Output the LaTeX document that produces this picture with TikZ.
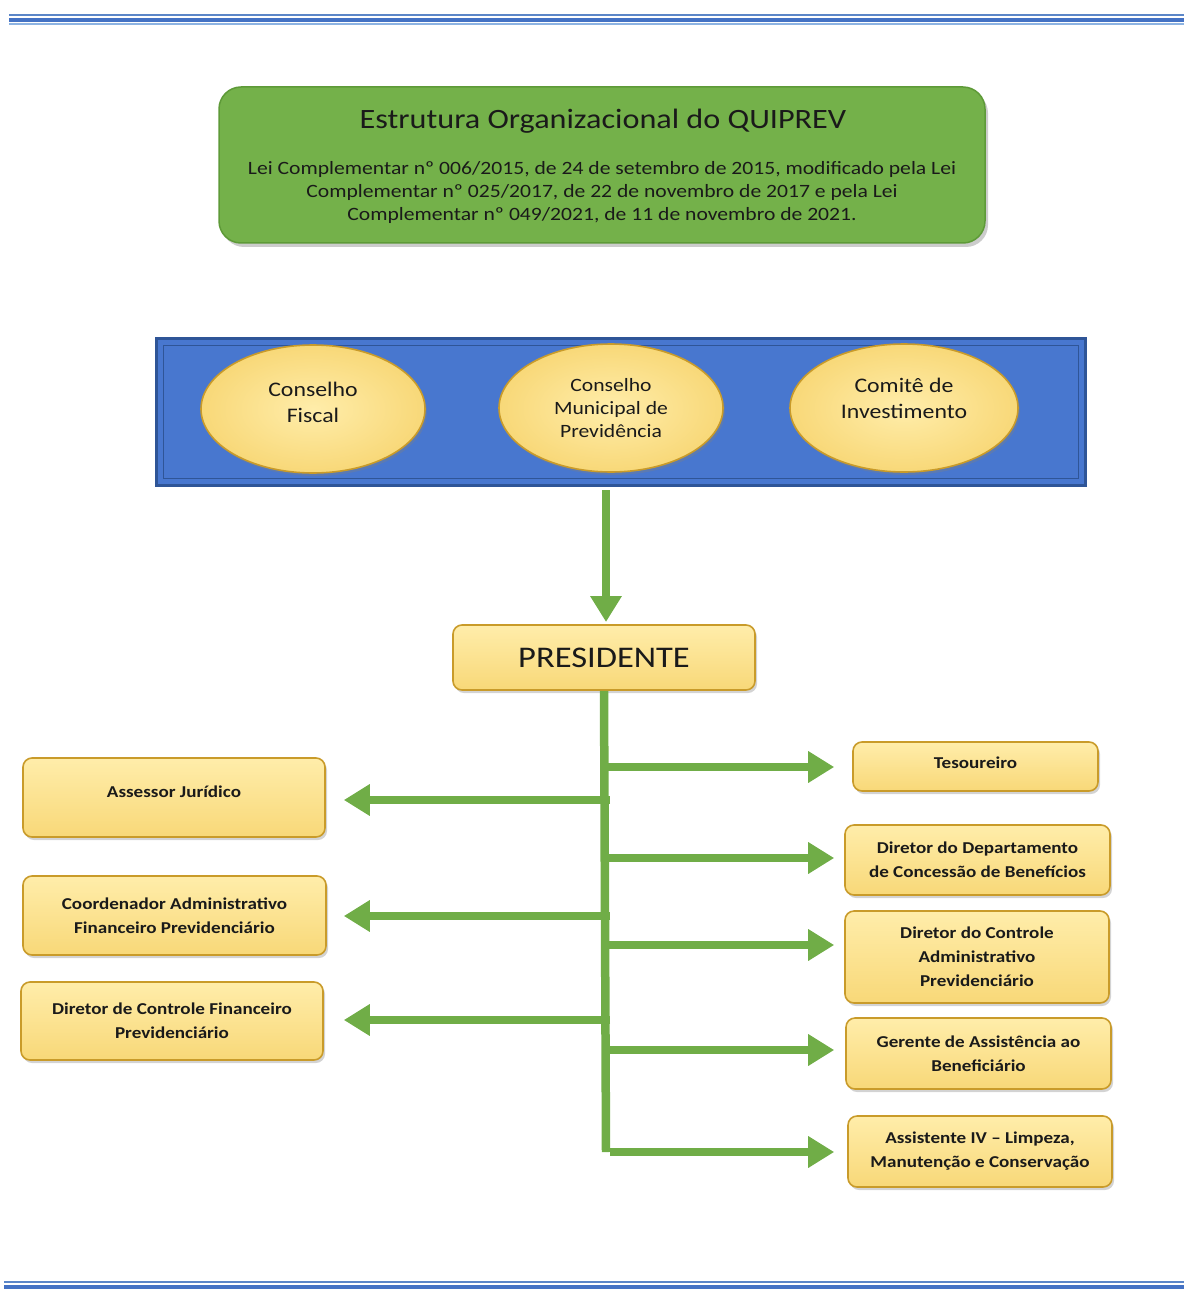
\documentclass[tikz,border=0pt]{standalone}
\usepackage{fontspec}
\setmainfont{Carlito}[FakeStretch=1.15]
\usetikzlibrary{arrows.meta,shadows,shapes.geometric}
\definecolor{stripeA}{HTML}{4472C4}
\definecolor{stripeB}{HTML}{5B86C8}
\definecolor{stripeC}{HTML}{8DB3E2}
\definecolor{titlegreen}{HTML}{74B14A}
\definecolor{greenborder}{HTML}{5E9A38}
\definecolor{arrowgreen}{HTML}{70AD47}
\definecolor{panelblue}{HTML}{4877CF}
\definecolor{panelborder}{HTML}{2F5597}
\definecolor{goldtop}{HTML}{FFEDAA}
\definecolor{goldbot}{HTML}{F8D878}
\definecolor{goldedge}{HTML}{C99B2A}
\definecolor{ink}{HTML}{1A1A1A}
\begin{document}
\begin{tikzpicture}[x=1pt,y=-1pt,
  yelbox/.style={draw=goldedge,line width=1.6pt,rounded corners=9pt,
    top color=goldtop,bottom color=goldbot,
    drop shadow={opacity=0.35,shadow xshift=2pt,shadow yshift=-3pt},
    align=center,inner sep=2pt,text=ink,font=\fontsize{16.6}{24}\selectfont\bfseries},
  yelell/.style={ellipse,draw=goldedge,line width=1.6pt,
    inner color=goldtop,outer color=goldbot,
    drop shadow={opacity=0.35,shadow xshift=2pt,shadow yshift=-3pt},
    inner sep=0pt},
  elltext/.style={align=center,text=ink,inner sep=0pt},
  conn/.style={draw=arrowgreen,line width=8.5pt},
  tip/.style={-{Triangle[length=26pt,width=30pt]}},
]
\useasboundingbox (0,0) rectangle (1184,1289);
% page stripes
\draw[stripeB,line width=2pt] (9,15) -- (1184,15);
\draw[stripeA,line width=4pt] (9,19.7) -- (1184,19.7);
\draw[stripeC,line width=2pt] (9,24.5) -- (1184,24.5);
\draw[stripeB,line width=2pt] (4,1281.5) -- (1184,1281.5);
\draw[stripeA,line width=4pt] (4,1286.5) -- (1184,1286.5);

% title box
\node[draw=greenborder,line width=1.5pt,fill=titlegreen,rounded corners=22pt,
  minimum width=766pt,minimum height=156pt,
  drop shadow={opacity=0.4,shadow xshift=3pt,shadow yshift=-4pt}] (titlebox) at (602,165) {};
\node[text=ink,font=\fontsize{28}{32}\selectfont] (title) at (603,121) {Estrutura Organizacional do QUIPREV};
\node[text=ink,align=center,font=\fontsize{18.8}{23}\selectfont] (law) at (602,192)
  {Lei Complementar nº 006/2015, de 24 de setembro de 2015, modificado pela Lei\\
   Complementar nº 025/2017, de 22 de novembro de 2017 e pela Lei\\
   Complementar nº 049/2021, de 11 de novembro de 2021.};

% councils panel
\node[draw=panelborder,line width=3pt,fill=panelblue,minimum width=929pt,minimum height=147pt,inner sep=0pt] (panel) at (620.5,411.5) {};
\draw[panelborder,line width=1pt] (163,345) rectangle (1078,478);
\node[yelell,minimum width=224pt,minimum height=128pt] (cf) at (313,409) {};
\node[yelell,minimum width=224pt,minimum height=128pt] (cmp) at (611,408) {};
\node[yelell,minimum width=228pt,minimum height=128pt] (ci) at (904,408) {};
\node[elltext,font=\fontsize{20.7}{26}\selectfont] (cft) at ([yshift=7pt]cf.center) {Conselho\\Fiscal};
\node[elltext,font=\fontsize{18.8}{23}\selectfont] (cmpt) at (cmp.center) {Conselho\\Municipal de\\Previdência};
\node[elltext,font=\fontsize{20.7}{26}\selectfont] (cit) at ([yshift=10pt]ci.center) {Comitê de\\Investimento};

% president
\node[yelbox,minimum width=302pt,minimum height=65pt,font=\fontsize{30}{34}\selectfont] (pres) at (604,657.5) {PRESIDENTE};

% left boxes
\node[yelbox,minimum width=302pt,minimum height=79pt] (aj) at (174,797.5) {\raisebox{12pt}{Assessor Jurídico}};
\node[yelbox,minimum width=303pt,minimum height=79pt] (caf) at (174.5,915.5) {Coordenador Administrativo\\Financeiro Previdenciário};
\node[yelbox,minimum width=302pt,minimum height=78pt] (dcf) at (172,1021) {Diretor de Controle Financeiro\\Previdenciário};

% right boxes
\node[yelbox,minimum width=245pt,minimum height=49pt] (tes) at (975.5,766.5) {\raisebox{7pt}{Tesoureiro}};
\node[yelbox,minimum width=265pt,minimum height=70pt] (ddcb) at (977.5,860) {Diretor do Departamento\\de Concessão de Benefícios};
\node[yelbox,minimum width=264pt,minimum height=92pt] (dcap) at (977,957) {Diretor do Controle\\Administrativo\\Previdenciário};
\node[yelbox,minimum width=265pt,minimum height=71pt] (gab) at (978.5,1053.5) {Gerente de Assistência ao\\Beneficiário};
\node[yelbox,minimum width=264pt,minimum height=71pt] (alm) at (980,1151.5) {Assistente IV – Limpeza,\\Manutenção e Conservação};

% connectors
\coordinate (ptop) at (606,490);
\draw[conn,tip] (ptop) -- (606,622);
\coordinate (trunkend) at (606,1152);
\coordinate (bl1) at (606,800);
\coordinate (bl2) at (606,916);
\coordinate (bl3) at (606,1020);
\coordinate (br1) at (606,767);
\coordinate (br2) at (606,858);
\coordinate (br3) at (606,945);
\coordinate (br4) at (606,1050);
\draw[conn] (pres.south) -- (trunkend);
\draw[conn,tip,shorten >=13pt] ([xshift=4pt]trunkend) -- (trunkend -| alm.west);
\draw[conn,tip,shorten >=18pt] ([xshift=-4pt]br1) -- (br1 -| tes.west);
\draw[conn,tip,shorten >=10pt] ([xshift=-4pt]br2) -- (br2 -| ddcb.west);
\draw[conn,tip,shorten >=10pt] ([xshift=-4pt]br3) -- (br3 -| dcap.west);
\draw[conn,tip,shorten >=11pt] ([xshift=-4pt]br4) -- (br4 -| gab.west);
\draw[conn,tip,shorten >=18pt] ([xshift=4pt]bl1) -- (bl1 -| aj.east);
\draw[conn,tip,shorten >=17pt] ([xshift=4pt]bl2) -- (bl2 -| caf.east);
\draw[conn,tip,shorten >=20pt] ([xshift=4pt]bl3) -- (bl3 -| dcf.east);
\end{tikzpicture}
\end{document}
